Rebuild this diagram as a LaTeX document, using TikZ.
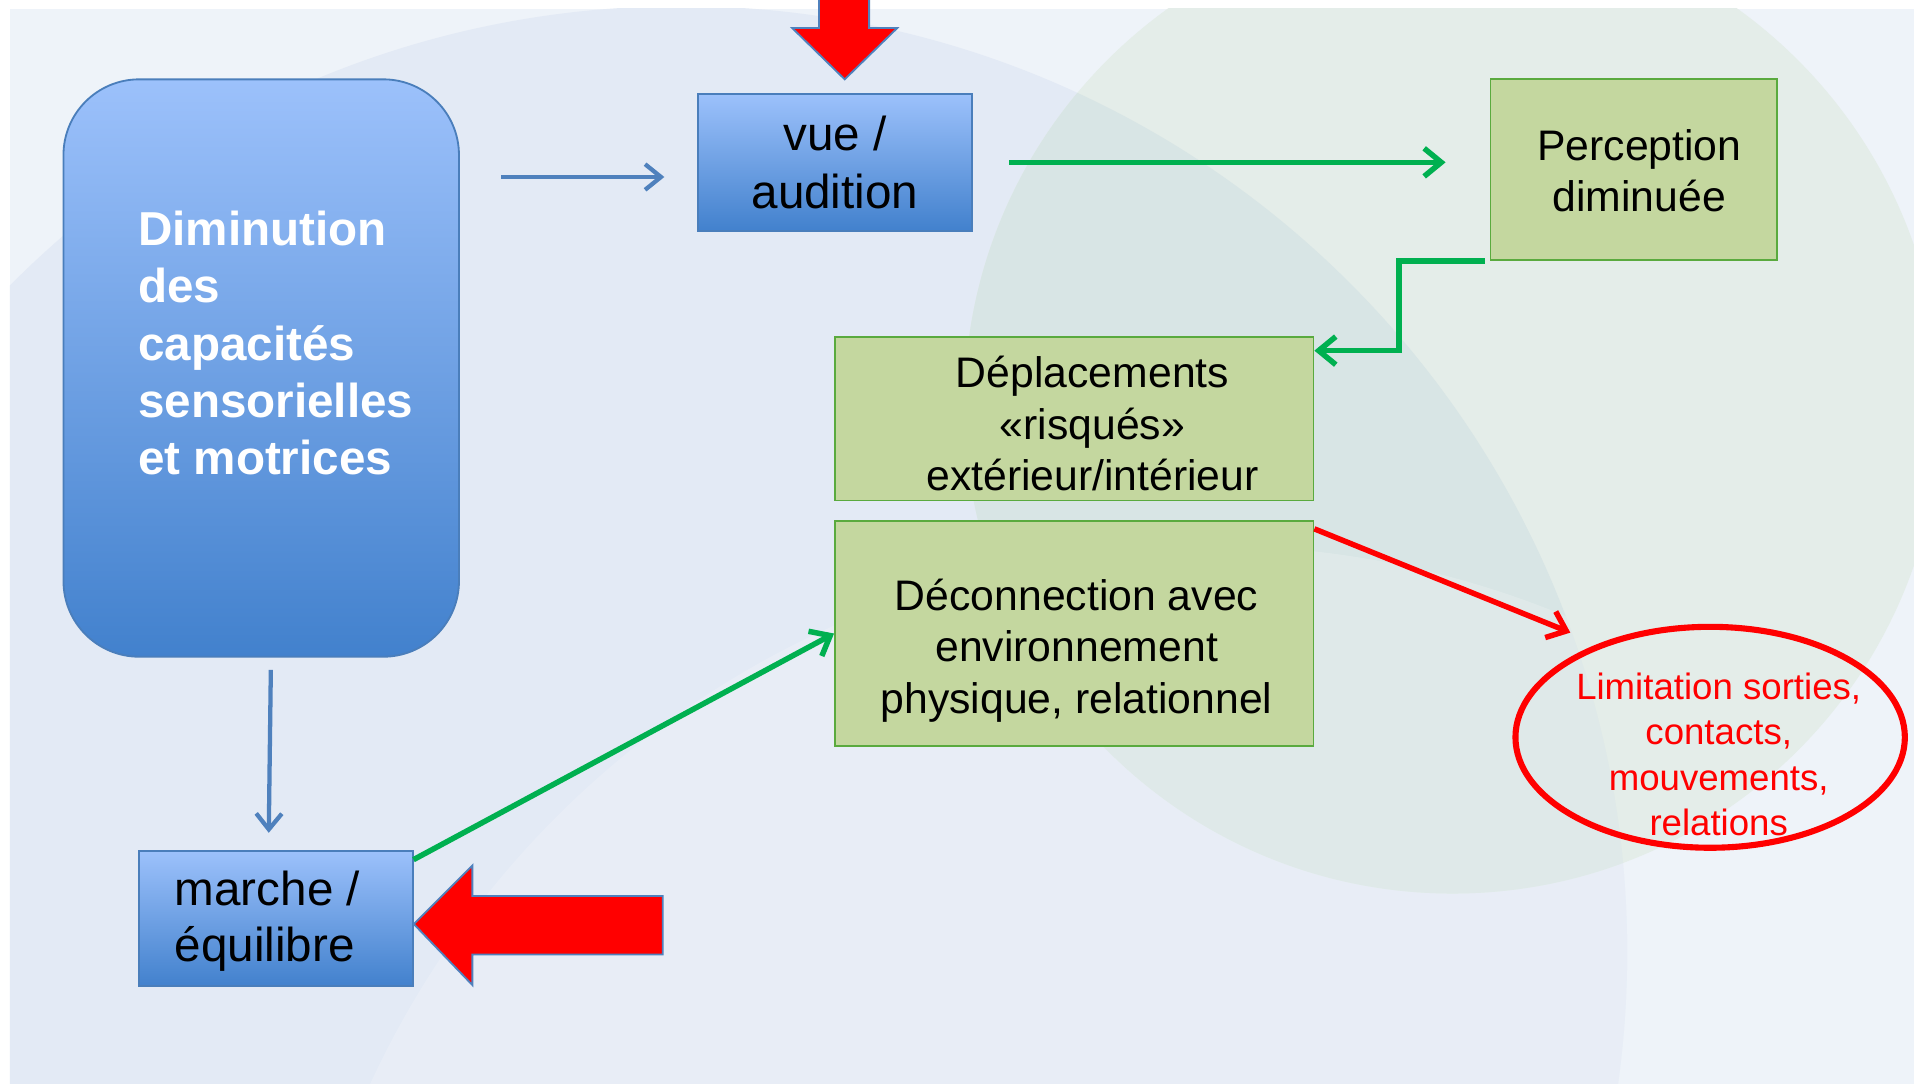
\documentclass[tikz,border=0pt]{standalone}
\usepackage{fontspec}
\setmainfont{Liberation Sans}
\usetikzlibrary{arrows.meta,shapes.geometric}

\definecolor{bgbase}{HTML}{EEF3F9}
\definecolor{bgblue}{HTML}{E3EAF5}
\definecolor{bggreen}{HTML}{E4EDE9}
\definecolor{bgmix}{HTML}{D8E5E5}
\definecolor{boxtop}{HTML}{9CC1FB}
\definecolor{boxbot}{HTML}{4281CD}
\definecolor{boxline}{HTML}{4A7EBB}
\definecolor{leaf}{HTML}{C4D79F}
\definecolor{leafline}{HTML}{5AAA3E}
\definecolor{arrgreen}{HTML}{00B050}
\definecolor{arrblue}{HTML}{4F81BD}

\tikzset{
  bluebox/.style={draw=boxline, line width=1.5pt, top color=boxtop, bottom color=boxbot},
  greenbox/.style={draw=leafline, line width=1.5pt, fill=leaf},
  big/.style={font=\fontsize{39}{47}\selectfont, align=center},
  mid/.style={font=\fontsize{35}{42}\selectfont, align=center},
  barrow/.style={draw=arrblue, line width=3.5pt, -{Straight Barb[length=13pt,width=21pt]}},
  garrow/.style={draw=arrgreen, line width=4.5pt, -{Straight Barb[length=14pt,width=23pt]}},
  rarrow/.style={draw=red, line width=4.5pt, -{Straight Barb[length=14pt,width=23pt]}},
  bigarrow/.style={fill=red, draw=arrblue, line width=1.5pt, line join=miter}
}

\begin{document}
\begin{tikzpicture}[x=1pt, y=-1pt]
  \useasboundingbox (0,0) rectangle (1568,888);
  \fill[white] (0,0) rectangle (1568,888);
  \fill[bgbase] (8,7) rectangle (1568,888);
  \begin{scope}
    \clip (8,7) rectangle (1568,888);
    \fill[bgblue] (558,780) circle (775pt);
    \fill[bggreen] (1190,332) circle (400pt);
    \begin{scope}
      \clip (558,780) circle (775pt);
      \fill[bgmix] (1190,332) circle (400pt);
      \fill[white, fill opacity=0.18] (992,1205) circle (758pt);
    \end{scope}
  \end{scope}

  \node[bluebox, rounded corners=62pt, minimum width=324pt, minimum height=473pt] (dim) at (214,301.5) {};
  \node[white, font=\fontsize{39}{47}\selectfont\bfseries, align=left, anchor=west, inner sep=0pt] (dimtxt) at (113,281)
    {Diminution\\des\\capacités\\sensorielles\\et motrices};
  \node[bluebox, big, minimum width=224pt, minimum height=112pt] (vue) at (684,133) {vue /\\audition};
  \node[greenbox, minimum width=235pt, minimum height=148pt] (perc) at (1338.5,139) {};
  \node[mid] (perctxt) at (1343,140) {Perception\\diminuée};
  \node[greenbox, minimum width=392pt, minimum height=134pt] (dep) at (880,343) {};
  \node[mid] (deptxt) at (895,347) {Déplacements\\«risqués»\\extérieur/intérieur};
  \node[greenbox, minimum width=392pt, minimum height=184pt] (decon) at (880,519) {};
  \node[mid] (decontxt) at (882,533) {Déconnection avec\\environnement\\physique, relationnel};
  \node[ellipse, draw=red, line width=5pt, minimum width=319pt, minimum height=181pt] (lim) at (1401,604) {};
  \node[red, font=\fontsize{30}{37}\selectfont, align=center] (limtxt) at (1408,618)
    {Limitation sorties,\\contacts,\\mouvements,\\relations};
  \node[bluebox, minimum width=224pt, minimum height=111pt] (marche) at (226,752.5) {};
  \node[font=\fontsize{39}{46}\selectfont, align=left, anchor=west, inner sep=0pt] (marchetxt) at (143,755)
    {marche /\\équilibre};

  \draw[bigarrow] (671,-5) -- (671,23) -- (649,23) -- (692,65) -- (735,23) -- (712,23) -- (712,-5) -- cycle;
  \draw[bigarrow] (339,757) -- (387,709) -- (387,734) -- (543,734) -- (543,782) -- (387,782) -- (387,807) -- cycle;

  \coordinate (va) at ([yshift=-12pt]vue.west);
  \draw[barrow, shorten <=34pt, shorten >=27pt] (dim.east |- va) -- (va);
  \draw[garrow, shorten <=30pt, shorten >=36pt] (vue.east) -- (vue.east -| perc.west);
  \draw[garrow] ([xshift=-4pt]perc.south west) -- ++(-70,0) |- ([yshift=-12pt]dep.north east);
  \draw[barrow, shorten <=10pt, shorten >=14pt] ([xshift=8pt]dim.south) -- ([xshift=-6pt]marche.north);
  \draw[garrow] ([yshift=-8pt]marche.north east) -- (decon.west);
  \draw[rarrow] ([yshift=-7pt]decon.north east) -- ([yshift=20pt]lim.north west);
\end{tikzpicture}
\end{document}
